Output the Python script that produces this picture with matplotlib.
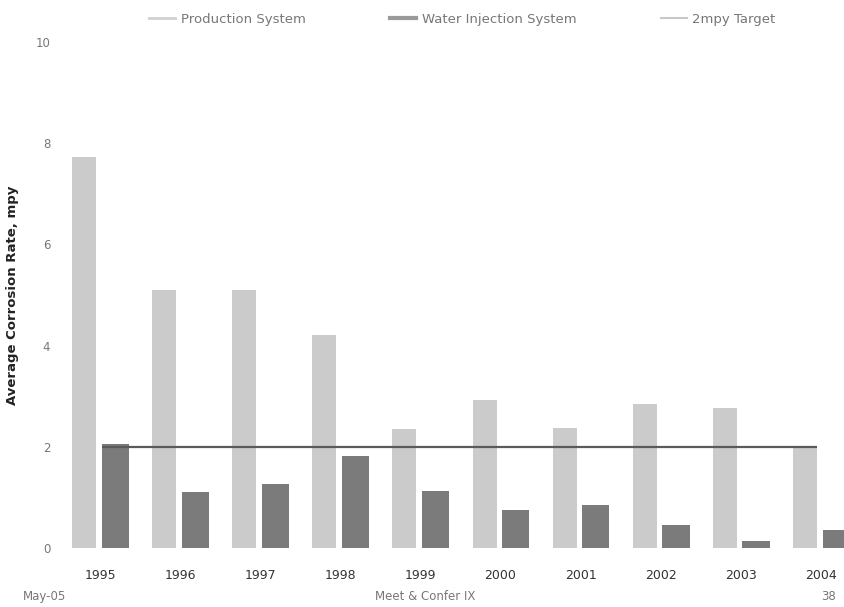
import numpy as np
import matplotlib
matplotlib.use('Agg')
import matplotlib.pyplot as plt
from matplotlib.lines import Line2D

# Datos
years = ['1995', '1996', '1997', '1998', '1999', '2000', '2001', '2002', '2003', '2004']
production = [7.73, 5.1, 5.1, 4.2, 2.36, 2.92, 2.37, 2.84, 2.76, 2.0]
water_inj = [2.05, 1.1, 1.26, 1.82, 1.12, 0.75, 0.84, 0.45, 0.14, 0.36]
target = 2.0

c_prod = '#cbcbcb'
c_water = '#7b7b7b'
c_line = '#5a5a5a'

fig = plt.figure(figsize=(8.45, 6.07), dpi=100)
ax = fig.add_axes([0.071, 0.0972, 0.929, 0.834])

x = np.arange(len(years))
w_prod = 0.30
w_water = 0.34
ax.bar(x - 0.20, production, width=w_prod, color=c_prod, edgecolor='none')
ax.bar(x + 0.19, water_inj, width=w_water, color=c_water, edgecolor='none')

# linea objetivo 2 mpy
x0 = x[0] + 0.19 - w_water / 2
x1 = x[-1] - 0.20 + w_prod / 2
ax.hlines(target, x0, x1, color=c_line, linewidth=1.6, zorder=3)

ax.set_xlim(-0.5, 9.3)
ax.set_ylim(0, 10)
ax.set_yticks([0, 2, 4, 6, 8, 10])
ax.set_xticks(x)
ax.set_xticklabels(years)
ax.tick_params(axis='y', length=0, pad=7, labelsize=8.5, labelcolor='#777777')
ax.tick_params(axis='x', length=0, pad=15, labelsize=9, labelcolor='#333333')
for s in ax.spines.values():
    s.set_visible(False)

ax.set_ylabel('Average Corrosion Rate, mpy', fontsize=9.5, fontweight='bold',
              color='#222222')
ax.yaxis.set_label_coords(-0.052, 0.5)

# leyenda arriba
handles = [Line2D([0], [0], color='#d0d0d0', lw=2),
           Line2D([0], [0], color='#9a9a9a', lw=3),
           Line2D([0], [0], color='#c8c8c8', lw=1.5)]
fig.legend(handles, ['Production System', 'Water Injection System', '2mpy Target'],
           loc='center', bbox_to_anchor=(0.547, 0.968), ncol=3, frameon=False,
           fontsize=9.5, labelcolor='#777777', handlelength=2.0,
           columnspacing=6.4, handletextpad=0.4)

# pie de pagina
fig.text(0.027, 0.012, 'May-05', fontsize=8.5, color='#777777')
fig.text(0.503, 0.012, 'Meet & Confer IX', fontsize=8.5, color='#777777', ha='center')
fig.text(0.980, 0.012, '38', fontsize=8.5, color='#777777', ha='center')

fig.savefig('out.png', dpi=100)
